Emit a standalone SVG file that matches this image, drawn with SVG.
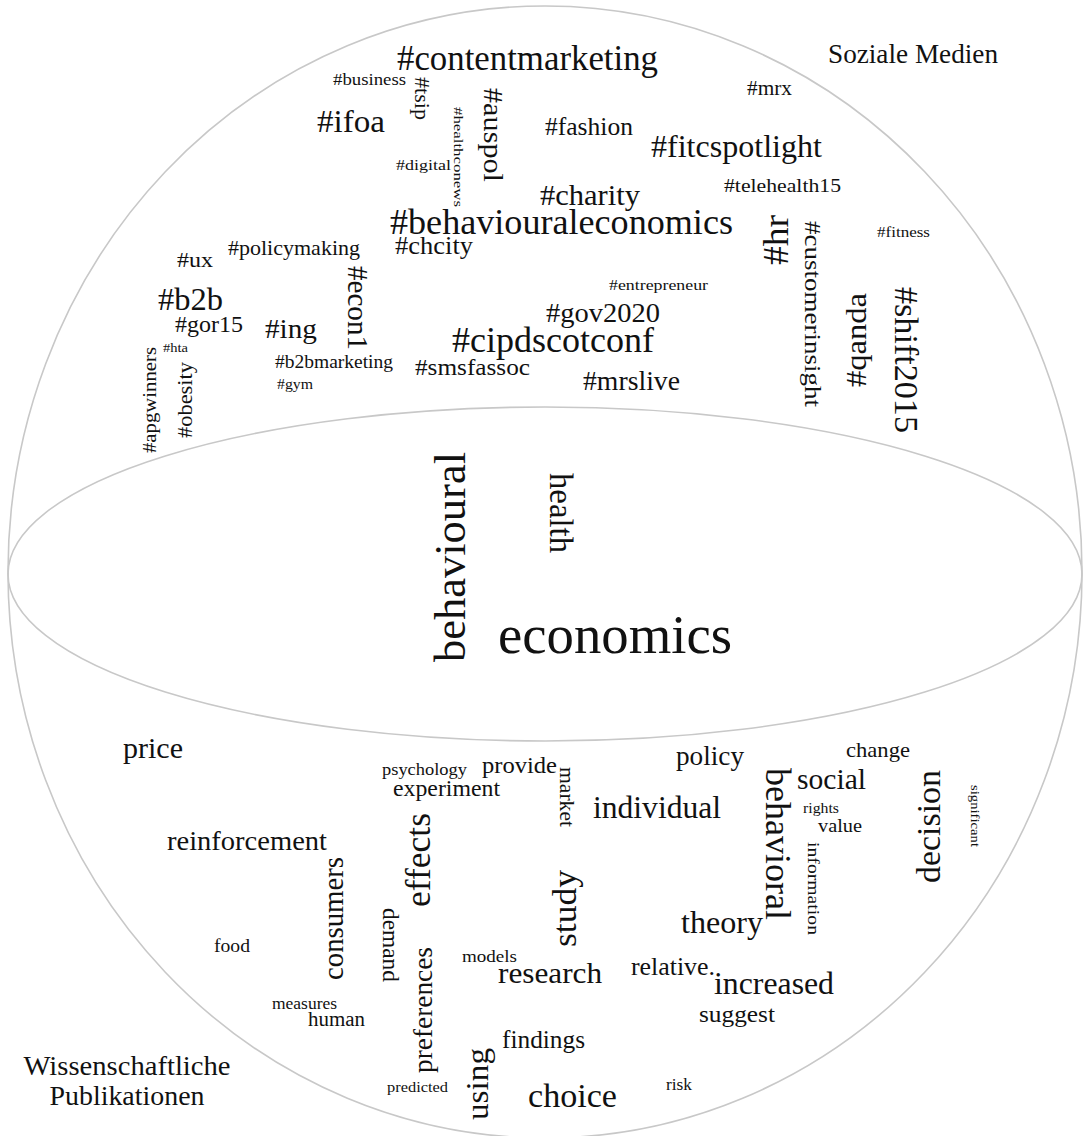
<svg xmlns="http://www.w3.org/2000/svg" width="1085" height="1136" viewBox="0 0 1085 1136">
<style>
text{font-family:"Liberation Serif","Times New Roman",serif;fill:#111;}
.sh{fill:none;stroke:#c8c8c8;stroke-width:1.6;}
</style>
<rect width="1085" height="1136" fill="#fff"/>
<g id="sphere">
<ellipse class="sh" cx="545" cy="572" rx="537" ry="566"/>
<ellipse class="sh" cx="545" cy="574" rx="537" ry="167"/>
</g>
<g id="labels">
<text x="828" y="63" font-size="27" textLength="170" lengthAdjust="spacingAndGlyphs">Soziale Medien</text>
<text x="127" y="1075" font-size="28" text-anchor="middle" textLength="207" lengthAdjust="spacingAndGlyphs">Wissenschaftliche</text>
<text x="127" y="1105" font-size="28" text-anchor="middle" textLength="155" lengthAdjust="spacingAndGlyphs">Publikationen</text>
</g>
<g id="social-media">
<text x="397" y="70" font-size="35" textLength="261" lengthAdjust="spacingAndGlyphs">#contentmarketing</text>
<text x="333" y="85" font-size="16" textLength="73" lengthAdjust="spacingAndGlyphs">#business</text>
<text transform="translate(415,77) rotate(90)" font-size="20" textLength="43" lengthAdjust="spacingAndGlyphs">#tsip</text>
<text transform="translate(484,88) rotate(90)" font-size="28" textLength="94" lengthAdjust="spacingAndGlyphs">#auspol</text>
<text transform="translate(454,107) rotate(90)" font-size="12" textLength="100" lengthAdjust="spacingAndGlyphs">#healthconews</text>
<text x="317" y="132" font-size="32" textLength="68" lengthAdjust="spacingAndGlyphs">#ifoa</text>
<text x="545" y="135" font-size="25" textLength="88" lengthAdjust="spacingAndGlyphs">#fashion</text>
<text x="747" y="95" font-size="20" textLength="45" lengthAdjust="spacingAndGlyphs">#mrx</text>
<text x="651" y="157" font-size="31" textLength="171" lengthAdjust="spacingAndGlyphs">#fitcspotlight</text>
<text x="396" y="170" font-size="15" textLength="55" lengthAdjust="spacingAndGlyphs">#digital</text>
<text x="724" y="192" font-size="19" textLength="117" lengthAdjust="spacingAndGlyphs">#telehealth15</text>
<text x="540" y="205" font-size="29" textLength="100" lengthAdjust="spacingAndGlyphs">#charity</text>
<text x="390" y="234" font-size="36" textLength="343" lengthAdjust="spacingAndGlyphs">#behaviouraleconomics</text>
<text x="395" y="254" font-size="25" textLength="78" lengthAdjust="spacingAndGlyphs">#chcity</text>
<text transform="translate(788,265) rotate(-90)" font-size="36" textLength="50" lengthAdjust="spacingAndGlyphs">#hr</text>
<text transform="translate(805,221) rotate(90)" font-size="24" textLength="186" lengthAdjust="spacingAndGlyphs">#customerinsight</text>
<text x="877" y="237" font-size="15" textLength="53" lengthAdjust="spacingAndGlyphs">#fitness</text>
<text x="177" y="267" font-size="22" textLength="36" lengthAdjust="spacingAndGlyphs">#ux</text>
<text x="228" y="255" font-size="21" textLength="132" lengthAdjust="spacingAndGlyphs">#policymaking</text>
<text transform="translate(348,266) rotate(90)" font-size="29" textLength="84" lengthAdjust="spacingAndGlyphs">#econ1</text>
<text x="609" y="290" font-size="15" textLength="99" lengthAdjust="spacingAndGlyphs">#entrepreneur</text>
<text x="158" y="310" font-size="32" textLength="65" lengthAdjust="spacingAndGlyphs">#b2b</text>
<text x="546" y="322" font-size="28" textLength="114" lengthAdjust="spacingAndGlyphs">#gov2020</text>
<text transform="translate(866,387) rotate(-90)" font-size="29" textLength="94" lengthAdjust="spacingAndGlyphs">#qanda</text>
<text transform="translate(895,287) rotate(90)" font-size="34" textLength="146" lengthAdjust="spacingAndGlyphs">#shift2015</text>
<text x="175" y="332" font-size="23" textLength="68" lengthAdjust="spacingAndGlyphs">#gor15</text>
<text x="265" y="338" font-size="28" textLength="52" lengthAdjust="spacingAndGlyphs">#ing</text>
<text x="452" y="352" font-size="35" textLength="202" lengthAdjust="spacingAndGlyphs">#cipdscotconf</text>
<text x="163" y="352" font-size="13" textLength="25" lengthAdjust="spacingAndGlyphs">#hta</text>
<text transform="translate(156,453) rotate(-90)" font-size="19" textLength="106" lengthAdjust="spacingAndGlyphs">#apgwinners</text>
<text transform="translate(192,438) rotate(-90)" font-size="22" textLength="76" lengthAdjust="spacingAndGlyphs">#obesity</text>
<text x="275" y="368" font-size="18" textLength="118" lengthAdjust="spacingAndGlyphs">#b2bmarketing</text>
<text x="415" y="375" font-size="24" textLength="115" lengthAdjust="spacingAndGlyphs">#smsfassoc</text>
<text x="277" y="389" font-size="14" textLength="36" lengthAdjust="spacingAndGlyphs">#gym</text>
<text x="583" y="390" font-size="27" textLength="97" lengthAdjust="spacingAndGlyphs">#mrslive</text>
</g>
<g id="shared">
<text transform="translate(465,662) rotate(-90)" font-size="45" textLength="210" lengthAdjust="spacingAndGlyphs">behavioural</text>
<text transform="translate(550,473) rotate(90)" font-size="34" textLength="80" lengthAdjust="spacingAndGlyphs">health</text>
<text x="498" y="653" font-size="54" textLength="234" lengthAdjust="spacingAndGlyphs">economics</text>
</g>
<g id="publications">
<text x="123" y="758" font-size="30" textLength="60" lengthAdjust="spacingAndGlyphs">price</text>
<text x="382" y="775" font-size="17" textLength="85" lengthAdjust="spacingAndGlyphs">psychology</text>
<text x="482" y="773" font-size="24" textLength="75" lengthAdjust="spacingAndGlyphs">provide</text>
<text transform="translate(560,767) rotate(90)" font-size="20" textLength="60" lengthAdjust="spacingAndGlyphs">market</text>
<text x="676" y="765" font-size="27" textLength="68" lengthAdjust="spacingAndGlyphs">policy</text>
<text x="846" y="757" font-size="22" textLength="64" lengthAdjust="spacingAndGlyphs">change</text>
<text x="393" y="796" font-size="23" textLength="107" lengthAdjust="spacingAndGlyphs">experiment</text>
<text transform="translate(766,768) rotate(90)" font-size="36" textLength="152" lengthAdjust="spacingAndGlyphs">behavioral</text>
<text x="797" y="789" font-size="29" textLength="69" lengthAdjust="spacingAndGlyphs">social</text>
<text x="593" y="818" font-size="31" textLength="128" lengthAdjust="spacingAndGlyphs">individual</text>
<text x="803" y="813" font-size="14" textLength="36" lengthAdjust="spacingAndGlyphs">rights</text>
<text x="818" y="832" font-size="19" textLength="44" lengthAdjust="spacingAndGlyphs">value</text>
<text transform="translate(940,883) rotate(-90)" font-size="34" textLength="113" lengthAdjust="spacingAndGlyphs">decision</text>
<text transform="translate(971,785) rotate(90)" font-size="13" textLength="62" lengthAdjust="spacingAndGlyphs">significant</text>
<text x="167" y="850" font-size="28" textLength="160" lengthAdjust="spacingAndGlyphs">reinforcement</text>
<text transform="translate(430,907) rotate(-90)" font-size="35" textLength="94" lengthAdjust="spacingAndGlyphs">effects</text>
<text transform="translate(808,842) rotate(90)" font-size="17" textLength="93" lengthAdjust="spacingAndGlyphs">information</text>
<text transform="translate(343,980) rotate(-90)" font-size="29" textLength="123" lengthAdjust="spacingAndGlyphs">consumers</text>
<text transform="translate(576,947) rotate(-90)" font-size="33" textLength="77" lengthAdjust="spacingAndGlyphs">study</text>
<text x="681" y="933" font-size="32" textLength="82" lengthAdjust="spacingAndGlyphs">theory</text>
<text x="214" y="952" font-size="18" textLength="36" lengthAdjust="spacingAndGlyphs">food</text>
<text transform="translate(383,908) rotate(90)" font-size="23" textLength="74" lengthAdjust="spacingAndGlyphs">demand</text>
<text x="462" y="962" font-size="17" textLength="55" lengthAdjust="spacingAndGlyphs">models</text>
<text transform="translate(432,1073) rotate(-90)" font-size="27" textLength="126" lengthAdjust="spacingAndGlyphs">preferences</text>
<text x="498" y="983" font-size="30" textLength="104" lengthAdjust="spacingAndGlyphs">research</text>
<text x="631" y="975" font-size="26" textLength="84" lengthAdjust="spacingAndGlyphs">relative.</text>
<text x="714" y="994" font-size="32" textLength="120" lengthAdjust="spacingAndGlyphs">increased</text>
<text x="272" y="1009" font-size="16" textLength="65" lengthAdjust="spacingAndGlyphs">measures</text>
<text x="308" y="1026" font-size="20" textLength="57" lengthAdjust="spacingAndGlyphs">human</text>
<text x="699" y="1022" font-size="24" textLength="76" lengthAdjust="spacingAndGlyphs">suggest</text>
<text x="502" y="1048" font-size="25" textLength="83" lengthAdjust="spacingAndGlyphs">findings</text>
<text transform="translate(488,1120) rotate(-90)" font-size="31" textLength="72" lengthAdjust="spacingAndGlyphs">using</text>
<text x="387" y="1092" font-size="15" textLength="61" lengthAdjust="spacingAndGlyphs">predicted</text>
<text x="528" y="1107" font-size="33" textLength="89" lengthAdjust="spacingAndGlyphs">choice</text>
<text x="666" y="1090" font-size="16" textLength="26" lengthAdjust="spacingAndGlyphs">risk</text>
</g>
</svg>
